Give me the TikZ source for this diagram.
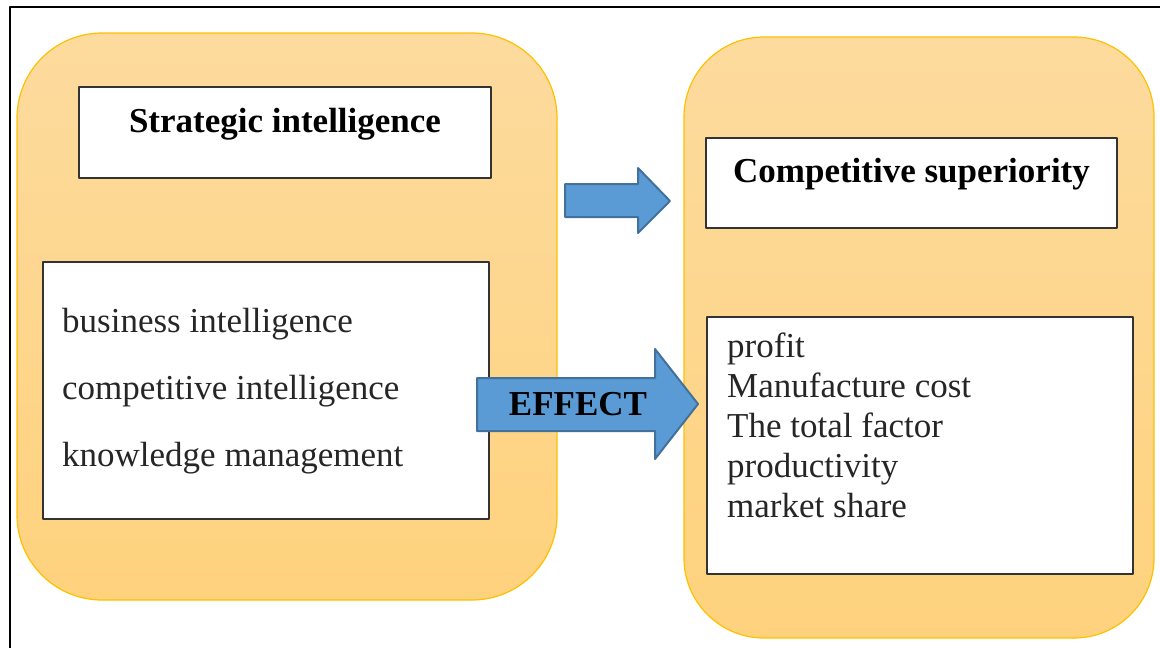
\documentclass[tikz,border=0pt]{standalone}
\usepackage{fontspec}
\setmainfont{Liberation Serif}
\definecolor{paneltop}{HTML}{FDDB9E}
\definecolor{panelbot}{HTML}{FED27D}
\definecolor{panelline}{HTML}{FFC000}
\definecolor{arrowfill}{HTML}{5B9BD5}
\definecolor{arrowline}{HTML}{41719C}
\definecolor{itemgray}{HTML}{262626}
\begin{document}
\begin{tikzpicture}[x=1pt,y=-1pt,line join=round,
	panel/.style={draw=panelline,line width=1.2pt,top color=paneltop,bottom color=panelbot},
	box/.style={draw=black!80,line width=1.2pt,fill=white,inner sep=0pt},
	blockarrow/.style={draw=arrowline,line width=2pt,fill=arrowfill},
	ttl/.style={font=\fontsize{35}{40}\selectfont\bfseries,anchor=base,inner sep=0pt},
	item/.style={font=\fontsize{35}{40}\selectfont,text=itemgray,anchor=base west,inner sep=0pt}]
	\useasboundingbox (0,0) rectangle (1160,648);
	\draw[line width=1.3pt] (1160,7)--(10,7)--(10,648);
	\draw[panel,rounded corners=85pt] (17,33) rectangle (557,600);
	\draw[panel,rounded corners=80pt] (684,37) rectangle (1154,638);
	% boxes
	\node[box,minimum width=412pt,minimum height=91pt] (strat) at (285,132.5) {};
	\node[box,minimum width=446pt,minimum height=257pt] (stratlist) at (266,390.5) {};
	\node[box,minimum width=411pt,minimum height=90pt] (comp) at (911.5,183) {};
	\node[box,minimum width=426pt,minimum height=257pt] (complist) at (920,445.5) {};
	\node[ttl] (strattitle) at (285,132) {Strategic intelligence};
	\node[ttl] (comptitle) at (911.5,182) {Competitive superiority};
	\foreach \t [count=\i] in {business intelligence,competitive intelligence,knowledge management}
		\node[item] (si\i) at (62,{332+67*(\i-1)}) {\t};
	\foreach \t [count=\i] in {profit,Manufacture cost,The total factor,productivity,market share}
		\node[item] (cs\i) at (727,{357+40.2*(\i-1)}) {\t};
	% arrows
	\draw[blockarrow] (565,184)--(638,184)--(638,168)--(670,201)--(638,233)--(638,217)--(565,217)--cycle;
	\draw[blockarrow] (477,378)--(655,378)--(655,349)--(698,404)--(655,459)--(655,431)--(477,431)--cycle;
	\node[ttl] (effect) at (578,415) {EFFECT};
\end{tikzpicture}
\end{document}
